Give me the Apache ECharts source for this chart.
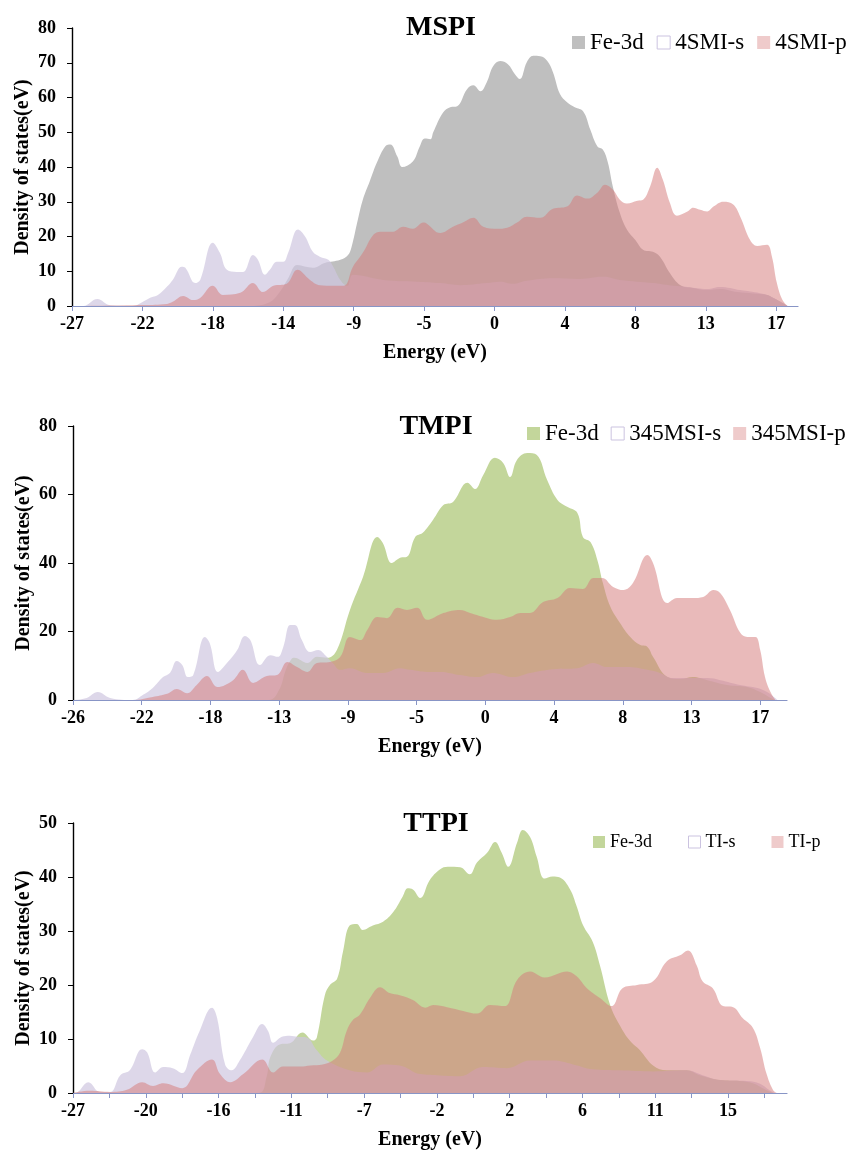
<!DOCTYPE html>
<html>
<head>
<meta charset="utf-8">
<script src="https://cdn.jsdelivr.net/npm/echarts@6/dist/echarts.min.js"></script>
<style>html,body{margin:0;padding:0;background:#fff}#c{width:855px;height:1151px}</style>
</head>
<body>
<div id="c"></div>
<script>
// x coordinates are in "tick-step" units: 0 = first labelled tick, 1 = next labelled tick, ...
const xLabels1 = ['-27','-22','-18','-14','-9','-5','0','4','8','13','17'];
const xLabels2 = ['-26','-22','-18','-13','-9','-5','0','4','8','13','17'];
const xLabels3 = ['-27','-20','-16','-11','-7','-2','2','6','11','15'];

const titles = ['MSPI', 'TMPI', 'TTPI'];
const names1 = ['Fe-3d', '4SMI-s', '4SMI-p'];
const names2 = ['Fe-3d', '345MSI-s', '345MSI-p'];
const names3 = ['Fe-3d', 'TI-s', 'TI-p'];

// ---- MSPI ----
const fe1 = [[0,0],[2.5,0],[2.8,1],[2.95,4],[3.07,8],[3.2,11.8],[3.42,11],[3.59,12.4],[3.81,13.3],[3.92,14.7],[3.97,17],[4.05,24],[4.13,30.6],[4.23,36],[4.33,41.3],[4.45,46],[4.52,46.5],[4.62,43],[4.69,40],[4.84,41.6],[4.94,46],[5.01,48.2],[5.09,48],[5.13,50],[5.27,55.7],[5.37,57.2],[5.47,57.5],[5.61,62.4],[5.70,63.5],[5.80,61.8],[5.89,64.4],[5.98,69],[6.08,70.5],[6.19,69.6],[6.29,66.7],[6.36,65.3],[6.46,70.2],[6.55,72],[6.65,71.9],[6.75,70.5],[6.83,67.3],[6.93,61],[7.03,58.6],[7.14,57.2],[7.26,56],[7.36,50.8],[7.46,46],[7.54,45],[7.61,41.3],[7.68,34.4],[7.78,26.8],[7.88,22],[8.0,19],[8.11,16.2],[8.25,15.6],[8.35,14.2],[8.49,9.5],[8.64,6],[8.82,5.2],[9.02,4.6],[9.20,4.9],[9.45,4],[9.67,3.6],[9.87,3.2],[9.96,2.3],[10.06,1.2],[10.16,0]];
const s1 = [[0,0],[0.16,0],[0.36,2],[0.54,0.2],[0.87,0],[0.97,0.8],[1.11,2.4],[1.22,3.2],[1.35,5.6],[1.43,7.5],[1.56,11.3],[1.61,11],[1.75,6.6],[1.82,7.5],[2.0,18.2],[2.10,15.3],[2.20,10.4],[2.34,9.8],[2.43,9.8],[2.57,14.7],[2.64,13.3],[2.74,9],[2.81,10.4],[2.91,12.7],[3.0,12.7],[3.07,15.3],[3.21,22],[3.31,20],[3.42,15.6],[3.52,14.2],[3.64,13.3],[3.71,11.3],[3.81,7.5],[3.91,5.8],[3.99,9],[4.42,7.5],[4.90,7],[5.23,6.6],[5.51,6],[5.89,6.6],[6.08,7],[6.26,6.4],[6.46,7.3],[6.83,8],[7.22,7.8],[7.54,8.4],[7.78,7.5],[8.25,6.6],[8.54,5.8],[8.74,5.5],[9.02,4.9],[9.20,5.5],[9.49,4.6],[9.77,3.7],[9.91,2.9],[10.06,1.2],[10.16,0]];
const p1 = [[0,0],[1.01,0.3],[1.35,0.6],[1.43,1.2],[1.58,2.9],[1.72,1.7],[1.82,2.3],[2.0,5.8],[2.14,3.2],[2.39,3.8],[2.57,6.6],[2.71,4],[2.86,5.8],[3.05,6.4],[3.20,10.4],[3.38,7.5],[3.52,6],[3.85,5.8],[3.99,11.3],[4.13,15.3],[4.28,20.5],[4.38,21.4],[4.56,21.4],[4.70,22.8],[4.84,22.2],[4.99,24],[5.04,23.7],[5.23,21],[5.41,22.8],[5.55,24],[5.70,25.4],[5.84,22.8],[6.04,22.2],[6.18,22.5],[6.32,24],[6.46,25.7],[6.65,25.4],[6.83,28],[7.03,28.6],[7.17,31.8],[7.32,30.9],[7.46,32.6],[7.57,34.9],[7.68,33.5],[7.78,30.6],[7.88,29.5],[8.03,30.3],[8.11,30.6],[8.21,34.4],[8.31,39.8],[8.39,36.4],[8.49,29.7],[8.59,26],[8.74,27.2],[8.82,28.3],[8.92,27.7],[9.02,27.2],[9.11,28.6],[9.25,30],[9.39,29.2],[9.49,25.7],[9.63,19],[9.73,17.3],[9.87,17.6],[9.94,14.2],[10.01,6.6],[10.09,1.7],[10.16,0]];

// ---- TMPI ----
const fe2 = [[0,0],[2.85,0],[3.0,3],[3.1,9],[3.18,12],[3.22,12.3],[3.41,10.8],[3.55,12.6],[3.70,12.3],[3.84,14.6],[4.03,26.3],[4.22,35.9],[4.43,47.6],[4.51,45.8],[4.64,40],[4.76,41.5],[4.86,41.8],[4.98,47.6],[5.09,48.8],[5.24,52.6],[5.39,56.9],[5.53,57.8],[5.74,63.4],[5.85,61.6],[5.97,65.7],[6.14,70.7],[6.26,69.2],[6.36,65.1],[6.46,70.1],[6.61,72.1],[6.75,71.5],[6.90,64.2],[7.05,58.4],[7.19,56.4],[7.34,54.6],[7.42,47.6],[7.53,46.1],[7.63,40.9],[7.71,34.2],[7.82,27.2],[7.96,22.5],[8.11,18.4],[8.25,16.1],[8.36,15.5],[8.44,12.6],[8.65,6.7],[8.84,6.1],[9.02,6.7],[9.23,5.8],[9.52,4.4],[9.81,3.8],[10.0,2.3],[10.15,0.6],[10.22,0]];
const s2 = [[0,0],[0.20,0.6],[0.36,2.3],[0.54,0.6],[0.87,0],[1.02,1.5],[1.16,3.5],[1.31,6.7],[1.41,7.9],[1.51,11.4],[1.59,10.2],[1.67,6.7],[1.75,7.3],[1.92,18.4],[1.99,16.6],[2.11,8.2],[2.24,10.8],[2.39,14.6],[2.50,18.7],[2.58,17.5],[2.72,10.2],[2.87,13.1],[2.98,12.6],[3.06,15.5],[3.16,21.9],[3.23,21.9],[3.33,17.5],[3.45,14],[3.57,14.6],[3.67,13.1],[3.78,10.8],[3.89,8.8],[4.03,9.3],[4.28,7.9],[4.51,7.9],[4.76,9.3],[4.91,8.8],[5.15,8.2],[5.34,8.2],[5.63,7.3],[5.88,6.7],[6.11,7.9],[6.40,6.7],[6.65,7.9],[6.99,9],[7.34,9.3],[7.57,10.8],[7.77,9.6],[8.06,9.6],[8.36,8.8],[8.54,7.9],[8.73,6.4],[8.94,6.4],[9.23,6.4],[9.42,5.8],[9.71,4.4],[9.96,3.5],[10.10,2.3],[10.25,0]];
const p2 = [[0,0],[0.87,0],[1.16,0.9],[1.37,1.8],[1.51,3.2],[1.66,2],[1.80,4.4],[1.95,7],[2.10,3.8],[2.33,5.8],[2.47,8.8],[2.62,5],[2.82,7],[2.97,7.3],[3.12,11.1],[3.26,9.6],[3.41,8.2],[3.55,10.8],[3.74,11.1],[3.89,12.6],[4.03,18.4],[4.18,17.5],[4.28,20.4],[4.43,24.2],[4.57,23.9],[4.72,26.9],[4.86,26.3],[5.01,26.9],[5.15,23.4],[5.39,25.4],[5.63,26.3],[5.78,25.4],[6.03,23.9],[6.17,23.4],[6.36,24.2],[6.51,25.4],[6.65,25.4],[6.84,28.6],[7.05,29.8],[7.23,32.7],[7.42,32.4],[7.57,35.6],[7.70,35.6],[7.86,33],[8.01,32.1],[8.15,34.2],[8.36,42.3],[8.44,40],[8.65,28.3],[8.79,29.8],[9.02,29.8],[9.17,30.1],[9.32,32.1],[9.42,31.2],[9.56,26.3],[9.71,19.6],[9.81,18.4],[9.93,18.4],[10.0,14.6],[10.07,6.7],[10.15,2.3],[10.22,0]];

// ---- TTPI ----
const fe3 = [[0,0],[2.55,0],[2.66,3],[2.71,6.6],[2.84,9],[2.98,9.2],[3.15,11.2],[3.30,9.7],[3.35,10.3],[3.46,18.1],[3.53,20],[3.63,21.2],[3.71,26.2],[3.80,31],[3.90,31.3],[3.98,30.2],[4.12,31],[4.26,31.7],[4.40,33.5],[4.53,36.4],[4.60,37.9],[4.67,37.7],[4.77,36.1],[4.90,39.4],[5.04,41.4],[5.15,41.9],[5.32,41.8],[5.45,40.5],[5.55,42.7],[5.69,44.5],[5.80,46.5],[5.89,44.5],[5.98,41.9],[6.10,46.3],[6.18,48.7],[6.28,47.4],[6.37,43.8],[6.48,39.7],[6.59,40.1],[6.69,39.9],[6.83,37.7],[6.92,34.6],[7.01,31],[7.14,28],[7.24,23.6],[7.38,16.3],[7.51,12.6],[7.65,9.7],[7.79,7.9],[7.97,5.1],[8.16,4.2],[8.43,4.2],[8.61,3.3],[8.89,2.4],[9.16,2.2],[9.34,1.8],[9.53,0.5],[9.62,0]];
const s3 = [[0,0],[0.03,0],[0.21,2],[0.37,0.2],[0.51,0.2],[0.65,3.3],[0.78,4.2],[0.95,8.1],[1.02,7.5],[1.13,3.8],[1.24,4.8],[1.37,4.6],[1.50,3.7],[1.61,7.1],[1.74,11.5],[1.91,15.8],[1.98,13.9],[2.09,5.3],[2.18,4.2],[2.29,6],[2.47,10.3],[2.60,12.8],[2.68,11.5],[2.75,9.3],[2.87,10.4],[2.98,10.6],[3.09,10.4],[3.21,10.3],[3.35,7.9],[3.49,6],[3.80,4.2],[4.04,3.8],[4.26,5.3],[4.49,5.1],[4.77,3.5],[5.0,3.3],[5.32,3.1],[5.63,4.8],[5.96,4.6],[6.28,6],[6.59,6],[6.87,5.3],[7.14,4.4],[7.51,4.2],[7.97,4],[8.43,4.2],[8.65,3.3],[8.89,2.4],[9.26,2.2],[9.44,1.7],[9.57,0.5],[9.64,0]];
const p3 = [[0,0],[0.23,0.4],[0.51,0.2],[0.74,0.6],[0.95,2],[1.10,1.3],[1.24,1.8],[1.50,0.9],[1.70,4.2],[1.91,6.2],[2.02,3.5],[2.16,2],[2.34,3.5],[2.60,6.2],[2.75,3.8],[2.88,4.9],[3.12,4.9],[3.26,5.1],[3.43,5.3],[3.57,6],[3.67,7.5],[3.76,11.5],[3.85,13.6],[3.94,14.5],[4.08,17.6],[4.22,19.6],[4.35,18.5],[4.49,18.1],[4.67,17.2],[4.84,15.8],[4.95,16.3],[5.14,15.9],[5.36,15.2],[5.55,14.7],[5.73,16.3],[5.93,16.1],[6.10,20.9],[6.28,22.5],[6.48,21.4],[6.79,22.5],[6.92,21.6],[7.06,19.4],[7.24,17.6],[7.40,16.1],[7.55,19.4],[7.75,20],[7.97,20.7],[8.16,24.4],[8.34,25.5],[8.45,26.4],[8.57,23.6],[8.65,20.7],[8.79,19.4],[8.93,16.1],[9.07,15.9],[9.20,13.9],[9.34,12.1],[9.44,8.4],[9.53,3.5],[9.62,0.5],[9.67,0]];

const FONT = 'Liberation Serif';
const C_GRAY = '#BFBFBF', C_GREEN = '#C3D69B';
const C_S = 'rgba(206,198,224,0.7)';
const C_P = 'rgba(212,122,122,0.52)';
const AX_BLUE = '#8895C6';

const panels = [
  {title: titles[0], names: names1, data: [fe1, s1, p1], fe: C_GRAY, labels: xLabels1, ticks: null,
   grid: {left: 72, top: 28, width: 726, height: 278}, xmax: 10.31, ymax: 80, yint: 10,
   titleX: 436, titleTop: 9,
   legend: {left: 572, top: 31, gap: 13, size: 23, icon: 13}},
  {title: titles[1], names: names2, data: [fe2, s2, p2], fe: C_GREEN, labels: xLabels2, ticks: null,
   grid: {left: 73, top: 426, width: 714, height: 274}, xmax: 10.39, ymax: 80, yint: 20,
   titleX: 431, titleTop: 408,
   legend: {left: 527, top: 422, gap: 12, size: 23, icon: 13}},
  {title: titles[2], names: names3, data: [fe3, s3, p3], fe: C_GREEN, labels: xLabels3, ticks: 0.5,
   grid: {left: 73, top: 823, width: 714, height: 273}, xmax: 9.81, ymax: 50, yint: 10,
   titleX: 431, titleTop: 805,
   legend: {left: 593, top: 833, gap: 36, size: 18, icon: 12}}
];

const option = {
  animation: false,
  backgroundColor: '#fff',
  title: [], legend: [], grid: [], xAxis: [], yAxis: [], series: []
};

panels.forEach((pn, i) => {
  option.title.push({
    text: pn.title, left: pn.titleX, top: pn.titleTop, textAlign: 'center',
    textStyle: {fontFamily: FONT, fontSize: 28, fontWeight: 'bold', color: '#000'}
  });
  option.legend.push({
    left: pn.legend.left, top: pn.legend.top, orient: 'horizontal',
    itemWidth: pn.legend.icon, itemHeight: pn.legend.icon, itemGap: pn.legend.gap,
    selectedMode: false, padding: 0,
    textStyle: {fontFamily: FONT, fontSize: pn.legend.size, color: '#000'},
    data: [
      {name: pn.names[0], icon: 'rect', itemStyle: {color: pn.fe, borderWidth: 0}},
      {name: pn.names[1], icon: 'rect', itemStyle: {color: '#fff', borderColor: '#CBC3E0', borderWidth: 1}},
      {name: pn.names[2], icon: 'rect', itemStyle: {color: '#EFCBCB', borderWidth: 0}}
    ]
  });
  option.grid.push(Object.assign({containLabel: false}, pn.grid));
  const labelVals = pn.labels.map((_, k) => k);
  let tickVals = labelVals;
  if (pn.ticks) {
    tickVals = [];
    for (let k = 0; k < pn.labels.length; k++) { tickVals.push(k); tickVals.push(k + pn.ticks); }
  }
  option.xAxis.push({
    type: 'value', gridIndex: i, min: 0, max: pn.xmax,
    name: 'Energy (eV)', nameLocation: 'middle', nameGap: 37,
    nameTextStyle: {fontFamily: FONT, fontSize: 20, fontWeight: 'bold', color: '#000'},
    splitLine: {show: false},
    axisLine: {show: true, onZero: false, lineStyle: {color: AX_BLUE, width: 1.2}},
    axisTick: {show: true, inside: false, length: 5, customValues: tickVals, lineStyle: {color: AX_BLUE, width: 1}},
    axisLabel: {
      customValues: labelVals, margin: 9, showMaxLabel: true,
      fontFamily: FONT, fontSize: 18, fontWeight: 'bold', color: '#000',
      formatter: (v) => { const k = Math.round(v); return pn.labels[k] !== undefined ? pn.labels[k] : ''; }
    }
  });
  option.yAxis.push({
    type: 'value', gridIndex: i, min: 0, max: pn.ymax, interval: pn.yint,
    name: 'Density of states(eV)', nameLocation: 'middle', nameGap: 39, nameMoveOverlap: false,
    nameTextStyle: {fontFamily: FONT, fontSize: 20, fontWeight: 'bold', color: '#000'},
    splitLine: {show: false},
    axisLine: {show: true, lineStyle: {color: '#000', width: 1.4}},
    axisTick: {show: true, inside: false, length: 5, lineStyle: {color: '#000', width: 1}},
    axisLabel: {margin: 16, fontFamily: FONT, fontSize: 18, fontWeight: 'bold', color: '#000'}
  });
  const colors = [pn.fe, C_S, C_P];
  pn.data.forEach((d, j) => {
    option.series.push({
      type: 'line', name: pn.names[j], xAxisIndex: i, yAxisIndex: i,
      data: d, smooth: 0.4, symbol: 'none', showSymbol: false, silent: true,
      lineStyle: {width: 0, opacity: 0},
      areaStyle: {color: colors[j], opacity: 1},
      z: 2 + j
    });
  });
});

const chart = echarts.init(document.getElementById('c'), null, {renderer: 'canvas'});
chart.setOption(option);
</script>
</body>
</html>
